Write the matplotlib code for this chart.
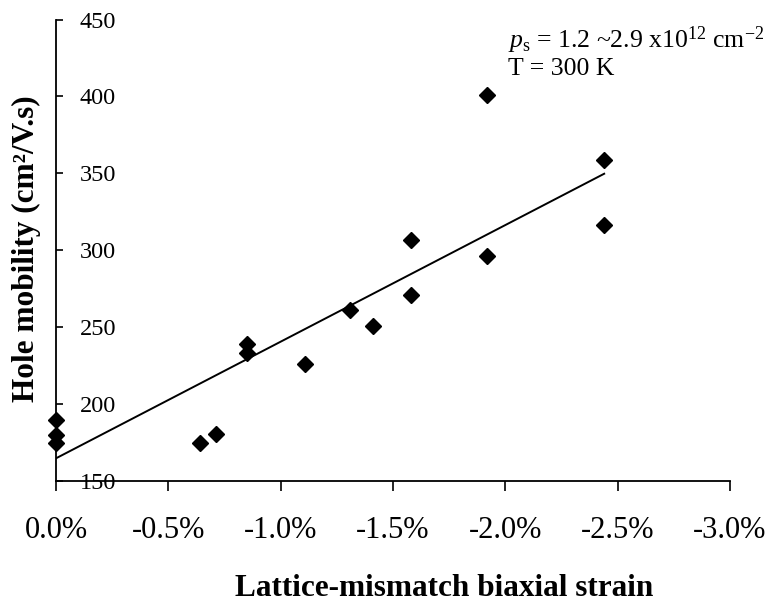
import numpy as np
import matplotlib
matplotlib.use("Agg")
import matplotlib.pyplot as plt

# Biaxial strain (%) and measured hole mobility (cm^2/V.s)
strain = [0.0, 0.0, 0.0, -0.64, -0.71, -0.85, -0.85, -1.11, -1.31, -1.41,
          -1.58, -1.58, -1.92, -1.92, -2.44, -2.44]
mobility = [189.6, 179.9, 174.7, 174.7, 180.5, 239.0, 233.3, 226.0, 261.0,
            250.8, 306.5, 270.8, 296.3, 400.6, 358.4, 316.2]

x_ticks = [0.0, -0.5, -1.0, -1.5, -2.0, -2.5, -3.0]
x_tick_labels = ["0.0%", "-0.5%", "-1.0%", "-1.5%", "-2.0%", "-2.5%", "-3.0%"]
y_ticks = [150, 200, 250, 300, 350, 400, 450]
y_tick_labels = ["150", "200", "250", "300", "350", "400", "450"]

plt.rcParams["font.family"] = ["Liberation Serif", "DejaVu Serif"]
plt.rcParams["mathtext.fontset"] = "custom"
plt.rcParams["mathtext.rm"] = "Liberation Serif"
plt.rcParams["mathtext.it"] = "Liberation Serif:italic"

fig = plt.figure(figsize=(7.70, 6.03), dpi=100)
ax = fig.add_axes([56 / 770, 1 - 481 / 603, 674 / 770, 461.5 / 603])

# data points
ax.plot(strain, mobility, linestyle="none", marker="D", markersize=8.5,
        color="black", clip_on=False, zorder=3)

# least-squares linear trend over the measured range
slope, intercept = np.polyfit(strain, mobility, 1)
xs = np.array([max(strain), min(strain)])
ax.plot(xs, slope * xs + intercept, color="black", linewidth=1.4, zorder=2)

ax.set_xlim(0, -3.0)
ax.set_ylim(150, 450)

ax.set_xticks(x_ticks)
ax.set_xticklabels(x_tick_labels, fontsize=22)
ax.set_yticks(y_ticks)
ax.set_yticklabels(y_tick_labels, fontsize=17.5)

for side in ("top", "right"):
    ax.spines[side].set_visible(False)
for side in ("left", "bottom"):
    ax.spines[side].set_linewidth(1.3)

ax.tick_params(axis="x", direction="out", length=7, width=1.2, pad=18)
ax.tick_params(axis="y", direction="in", length=5, width=1.2, pad=-17)
for lbl in ax.get_yticklabels():
    lbl.set_horizontalalignment("left")

ax.set_xlabel("Lattice-mismatch biaxial strain", fontsize=22.5,
              fontweight="bold")
ax.xaxis.set_label_coords((444 - 56) / 674, -(596 - 481) / 461.5)
ax.xaxis.label.set_verticalalignment("baseline")

ax.set_ylabel("Hole mobility (cm²/V.s)", fontsize=22.5, fontweight="bold")
ax.yaxis.set_label_coords(-(56 - 26) / 674, (481 - 249) / 461.5)
ax.yaxis.label.set_verticalalignment("center")

ax.text((508 - 56) / 674, (481 - 48) / 461.5,
        r"$\mathit{p}_{\mathrm{s}}$ = 1.2 ~2.9 x10$^{12}$ cm$^{-2}$",
        transform=ax.transAxes, fontsize=18.5, ha="left", va="baseline")
ax.text((508 - 56) / 674, (481 - 75) / 461.5, "T = 300 K",
        transform=ax.transAxes, fontsize=18.5, ha="left", va="baseline")

fig.savefig("out.png", dpi=100)
